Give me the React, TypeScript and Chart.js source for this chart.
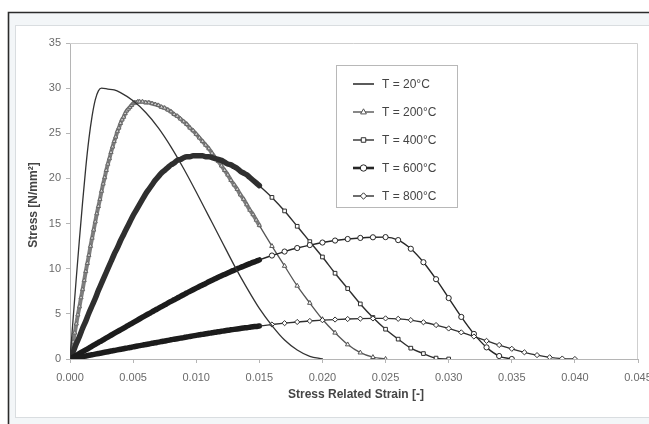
import React, { useEffect, useRef } from "react";
import { Chart, registerables } from "chart.js";

Chart.register(...registerables);

// ---- data (strain in [-], stress in N/mm²) ----
const SERIES_LABELS = ["T = 20°C", "T = 200°C", "T = 400°C", "T = 600°C", "T = 800°C"];

const STRAIN_DENSE = [
  0, 0.00025, 0.0005, 0.00075, 0.001, 0.00125, 0.0015, 0.00175, 0.002, 0.00225,
  0.0025, 0.00275, 0.003, 0.00325, 0.0035, 0.00375, 0.004, 0.00425, 0.0045, 0.00475,
  0.005, 0.00525, 0.0055, 0.00575, 0.006, 0.00625, 0.0065, 0.00675, 0.007, 0.00725,
  0.0075, 0.00775, 0.008, 0.00825, 0.0085, 0.00875, 0.009, 0.00925, 0.0095, 0.00975,
  0.01, 0.01025, 0.0105, 0.01075, 0.011, 0.01125, 0.0115, 0.01175, 0.012, 0.01225,
  0.0125, 0.01275, 0.013, 0.01325, 0.0135, 0.01375, 0.014, 0.01425, 0.0145, 0.01475,
  0.015,
];

const STRAIN_200_RISE = [
  0, 0.000125, 0.00025, 0.000375, 0.0005, 0.000625, 0.00075, 0.000875, 0.001, 0.001125,
  0.00125, 0.001375, 0.0015, 0.001625, 0.00175, 0.001875, 0.002, 0.002125, 0.00225, 0.002375,
  0.0025, 0.002625, 0.00275, 0.002875, 0.003, 0.003125, 0.00325, 0.003375, 0.0035, 0.003625,
  0.00375, 0.003875, 0.004, 0.004125, 0.00425, 0.004375, 0.0045, 0.004625, 0.00475, 0.004875,
  0.005, 0.005125, 0.00525, 0.005375, 0.0055,
];

const STRAIN_TAIL = [
  0.016, 0.017, 0.018, 0.019, 0.02, 0.021, 0.022, 0.023, 0.024, 0.025,
  0.026, 0.027, 0.028, 0.029, 0.03, 0.031, 0.032, 0.033, 0.034, 0.035,
  0.036, 0.037, 0.038, 0.039, 0.04,
];

const STRAIN_20 = [
  0, 0.00025, 0.0005, 0.00075, 0.001, 0.00125, 0.0015, 0.00175, 0.002, 0.00225,
  0.0025, 0.003, 0.0035, 0.004, 0.005, 0.006, 0.007, 0.008, 0.009, 0.01,
  0.011, 0.012, 0.013, 0.014, 0.015, 0.016, 0.017, 0.018, 0.019, 0.02,
];

const STRESS_20 = [
  0, 4.5, 9.0, 13.3, 17.4, 21.2, 24.4, 26.9, 28.7, 29.7,
  30.0, 29.9, 29.8, 29.5, 28.6, 27.3, 25.6, 23.5, 21.1, 18.5,
  15.8, 13.1, 10.4, 7.9, 5.6, 3.7, 2.1, 1.0, 0.3, 0,
];

const STRESS_200 = [
  // rising branch
  0, 1.0, 1.9, 2.9, 3.9, 4.9, 5.8, 6.8, 7.7, 8.7,
  9.7, 10.6, 11.5, 12.5, 13.4, 14.3, 15.2, 16.1, 16.9, 17.7,
  18.6, 19.4, 20.1, 20.9, 21.6, 22.2, 22.9, 23.5, 24.1, 24.6,
  25.2, 25.6, 26.1, 26.5, 26.8, 27.2, 27.5, 27.7, 27.9, 28.1,
  28.3, 28.4, 28.4, 28.5, 28.5,
  // falling branch (dense)
  28.5, 28.4, 28.4, 28.3, 28.2, 28.1, 27.9, 27.8, 27.6, 27.4,
  27.1, 26.9, 26.6, 26.3, 26.0, 25.6, 25.3, 24.9, 24.5, 24.1,
  23.7, 23.3, 22.8, 22.3, 21.9, 21.4, 20.9, 20.4, 19.8, 19.3,
  18.8, 18.2, 17.7, 17.1, 16.5, 16.0, 15.4, 14.8,
  // tail
  12.5, 10.3, 8.1, 6.2, 4.4, 2.9, 1.6, 0.7, 0.2, 0,
];

const STRESS_400 = [
  0, 0.8, 1.7, 2.5, 3.4, 4.2, 5.1, 5.9, 6.7, 7.6,
  8.4, 9.2, 10.0, 10.8, 11.6, 12.3, 13.1, 13.8, 14.5, 15.2,
  15.9, 16.5, 17.1, 17.7, 18.3, 18.8, 19.3, 19.8, 20.2, 20.6,
  20.9, 21.2, 21.5, 21.7, 22.0, 22.1, 22.3, 22.4, 22.4, 22.5,
  22.5, 22.5, 22.5, 22.4, 22.4, 22.3, 22.2, 22.1, 22.0, 21.8,
  21.6, 21.5, 21.3, 21.1, 20.8, 20.6, 20.4, 20.1, 19.8, 19.5,
  19.2,
  17.9, 16.4, 14.7, 13.0, 11.3, 9.5, 7.8, 6.1, 4.6, 3.3,
  2.2, 1.2, 0.6, 0.1, 0,
];

const STRESS_600 = [
  0, 0.2, 0.41, 0.61, 0.81, 1.01, 1.21, 1.42, 1.62, 1.82,
  2.02, 2.23, 2.43, 2.63, 2.83, 3.03, 3.23, 3.43, 3.63, 3.83,
  4.03, 4.23, 4.43, 4.63, 4.83, 5.02, 5.22, 5.41, 5.61, 5.8,
  5.99, 6.19, 6.38, 6.56, 6.75, 6.94, 7.12, 7.31, 7.49, 7.67,
  7.85, 8.03, 8.2, 8.37, 8.55, 8.72, 8.88, 9.05, 9.21, 9.37,
  9.53, 9.69, 9.84, 9.99, 10.14, 10.28, 10.42, 10.56, 10.7, 10.83,
  10.97,
  11.46, 11.9, 12.29, 12.62, 12.9, 13.12, 13.29, 13.41, 13.48, 13.5,
  13.17, 12.21, 10.72, 8.84, 6.75, 4.66, 2.78, 1.29, 0.33, 0,
];

const STRESS_800 = [
  0, 0.07, 0.14, 0.2, 0.27, 0.34, 0.41, 0.47, 0.54, 0.61,
  0.67, 0.74, 0.81, 0.88, 0.94, 1.01, 1.08, 1.14, 1.21, 1.28,
  1.34, 1.41, 1.48, 1.54, 1.61, 1.67, 1.74, 1.8, 1.87, 1.93,
  2.0, 2.06, 2.13, 2.19, 2.25, 2.31, 2.37, 2.44, 2.5, 2.56,
  2.62, 2.68, 2.73, 2.79, 2.85, 2.91, 2.96, 3.02, 3.07, 3.12,
  3.18, 3.23, 3.28, 3.33, 3.38, 3.43, 3.47, 3.52, 3.57, 3.61,
  3.66,
  3.82, 3.97, 4.1, 4.21, 4.3, 4.37, 4.43, 4.47, 4.49, 4.5,
  4.45, 4.31, 4.07, 3.76, 3.38, 2.95, 2.49, 2.01, 1.55, 1.13,
  0.74, 0.43, 0.19, 0.05, 0,
];

const X_MIN = 0;
const X_MAX = 0.045;
const X_STEP = 0.005;
const Y_MIN = 0;
const Y_MAX = 35;
const Y_STEP = 5;
const DENSE_LIMIT = 0.015;

const X_TITLE = "Stress Related Strain [-]";
const Y_TITLE = "Stress [N/mm²]";

// strain vectors per series built from the arrays above
const STRAIN_200 = [
  ...STRAIN_200_RISE,
  ...STRAIN_DENSE.filter((e) => e > 0.0055),
  ...STRAIN_TAIL.filter((e) => e <= 0.025),
];
const STRAIN_400 = [...STRAIN_DENSE, ...STRAIN_TAIL.filter((e) => e <= 0.03)];
const STRAIN_600 = [...STRAIN_DENSE, ...STRAIN_TAIL.filter((e) => e <= 0.035)];
const STRAIN_800 = [...STRAIN_DENSE, ...STRAIN_TAIL];

const pts = (xs: number[], ys: number[]) => xs.map((x, i) => ({ x, y: ys[i] }));

const FONT = "'Liberation Sans', Arial, Helvetica, sans-serif";

type Style = {
  color: string;
  width: number;
  marker: string | false;
  legendWidth: number;
  denseLine: string;
  denseWidth: number;
  denseFill: string;
  denseBorder: string;
  denseRadius: number;
};

const STYLES: Style[] = [
  { color: "#333333", width: 1.3, marker: false, legendWidth: 1.6, denseLine: "#333333", denseWidth: 1.3, denseFill: "#fff", denseBorder: "#333", denseRadius: 0 },
  { color: "#555555", width: 1.3, marker: "triangle", legendWidth: 1.4, denseLine: "#7e7e7e", denseWidth: 4, denseFill: "#d0d0d0", denseBorder: "#666666", denseRadius: 2.4 },
  { color: "#2e2e2e", width: 1.4, marker: "rect", legendWidth: 1.4, denseLine: "#2f2f2f", denseWidth: 5.5, denseFill: "#555", denseBorder: "#3a3a3a", denseRadius: 0 },
  { color: "#262626", width: 1.4, marker: "circle", legendWidth: 2.6, denseLine: "#1c1c1c", denseWidth: 5.5, denseFill: "#222", denseBorder: "#1a1a1a", denseRadius: 0 },
  { color: "#303030", width: 1.3, marker: "rectRot", legendWidth: 1.4, denseLine: "#1c1c1c", denseWidth: 5.5, denseFill: "#222", denseBorder: "#1a1a1a", denseRadius: 0 },
];

function drawMarker(ctx: CanvasRenderingContext2D, style: string, x: number, y: number, r: number) {
  ctx.beginPath();
  if (style === "circle") {
    ctx.arc(x, y, r, 0, Math.PI * 2);
  } else if (style === "rect") {
    const s = r * Math.SQRT1_2;
    ctx.rect(x - s, y - s, 2 * s, 2 * s);
  } else if (style === "rectRot") {
    ctx.moveTo(x, y - r);
    ctx.lineTo(x + r, y);
    ctx.lineTo(x, y + r);
    ctx.lineTo(x - r, y);
    ctx.closePath();
  } else if (style === "triangle") {
    ctx.moveTo(x, y - r);
    ctx.lineTo(x + r * 0.9, y + r * 0.6);
    ctx.lineTo(x - r * 0.9, y + r * 0.6);
    ctx.closePath();
  }
  ctx.fill();
  ctx.stroke();
}

const framePlugin = {
  id: "frame",
  beforeDraw(chart: any) {
    const ctx: CanvasRenderingContext2D = chart.ctx;
    const W = chart.width;
    const H = chart.height;
    ctx.save();
    ctx.fillStyle = "#ffffff";
    ctx.fillRect(0, 0, W, H);
    ctx.fillStyle = "#f3f6f8";
    ctx.fillRect(9, 13, W - 9, 12);
    ctx.fillRect(9, 13, 6, H - 13);
    ctx.fillRect(9, 418, W - 9, H - 418);
    ctx.strokeStyle = "#d9dde0";
    ctx.lineWidth = 1;
    ctx.strokeRect(15.5, 25.5, W - 10, 392);
    ctx.strokeStyle = "#2b2b2b";
    ctx.lineWidth = 1.6;
    ctx.beginPath();
    ctx.moveTo(8.5, H);
    ctx.lineTo(8.5, 12.5);
    ctx.lineTo(W, 12.5);
    ctx.stroke();
    ctx.restore();
  },
  beforeDatasetsDraw(chart: any) {
    const ctx: CanvasRenderingContext2D = chart.ctx;
    const a = chart.chartArea;
    ctx.save();
    ctx.strokeStyle = "#cfcfcf";
    ctx.lineWidth = 1;
    ctx.beginPath();
    ctx.moveTo(a.left, a.top + 0.5);
    ctx.lineTo(a.right - 0.5, a.top + 0.5);
    ctx.lineTo(a.right - 0.5, a.bottom);
    ctx.stroke();
    ctx.restore();
  },
  afterDraw(chart: any) {
    const ctx: CanvasRenderingContext2D = chart.ctx;
    const a = chart.chartArea;
    ctx.save();
    ctx.fillStyle = "#454545";
    ctx.font = `bold 12px ${FONT}`;
    ctx.textAlign = "center";
    ctx.textBaseline = "middle";
    ctx.fillText(X_TITLE, (a.left + a.right) / 2 + 2, 395);
    ctx.save();
    ctx.translate(34, 205);
    ctx.rotate(-Math.PI / 2);
    ctx.fillText(Y_TITLE, 0, 0);
    ctx.restore();

    const bx = 336.5;
    const by = 65.5;
    const bw = 121;
    const bh = 142;
    ctx.fillStyle = "#ffffff";
    ctx.fillRect(bx, by, bw, bh);
    ctx.strokeStyle = "#b8b8b8";
    ctx.lineWidth = 1;
    ctx.strokeRect(bx, by, bw, bh);
    ctx.font = `12px ${FONT}`;
    ctx.textAlign = "left";
    ctx.textBaseline = "middle";
    SERIES_LABELS.forEach((label, i) => {
      const st = STYLES[i];
      const cy = 84 + i * 28;
      ctx.strokeStyle = st.color;
      ctx.lineWidth = st.legendWidth;
      ctx.beginPath();
      ctx.moveTo(353, cy);
      ctx.lineTo(374, cy);
      ctx.stroke();
      if (st.marker) {
        ctx.fillStyle = "#ffffff";
        ctx.lineWidth = 1;
        drawMarker(ctx, st.marker as string, 363.5, cy, 3.2);
      }
      ctx.fillStyle = "#444444";
      ctx.fillText(label, 382, cy + 0.5);
    });
    ctx.restore();
  },
};

export default function App() {
  const ref = useRef<HTMLCanvasElement | null>(null);

  useEffect(() => {
    if (!ref.current) return;
    const series = [
      pts(STRAIN_20, STRESS_20),
      pts(STRAIN_200, STRESS_200),
      pts(STRAIN_400, STRESS_400),
      pts(STRAIN_600, STRESS_600),
      pts(STRAIN_800, STRESS_800),
    ];
    const datasets = series.map((data, i) => {
      const st = STYLES[i];
      const isDense = (c: any) => c.raw && c.raw.x <= DENSE_LIMIT;
      const segDense = (c: any) => c.p1 && c.p1.parsed.x <= DENSE_LIMIT + 1e-9;
      return {
        label: SERIES_LABELS[i],
        data,
        borderColor: st.color,
        borderWidth: st.width,
        backgroundColor: "#ffffff",
        pointStyle: st.marker ? (st.marker as any) : "circle",
        pointRadius: st.marker ? (c: any) => (isDense(c) ? st.denseRadius : 2.6) : 0,
        pointBorderWidth: 1,
        pointBorderColor: (c: any) => (isDense(c) ? st.denseBorder : st.color),
        pointBackgroundColor: (c: any) => (isDense(c) ? st.denseFill : "#ffffff"),
        segment: {
          borderWidth: (c: any) => (segDense(c) ? st.denseWidth : st.width),
          borderColor: (c: any) => (segDense(c) ? st.denseLine : st.color),
        },
        borderCapStyle: "round" as const,
        borderJoinStyle: "round" as const,
        cubicInterpolationMode: "monotone" as const,
        fill: false,
        order: i === 0 ? 0 : 5 - i,
      };
    });

    const chart = new Chart(ref.current, {
      type: "line",
      data: { datasets },
      options: {
        animation: false,
        responsive: false,
        maintainAspectRatio: false,
        events: [],
        layout: { padding: { left: 0, right: 11, top: 43, bottom: 0 } },
        plugins: {
          legend: { display: false },
          tooltip: { enabled: false },
          title: { display: false },
        },
        scales: {
          x: {
            type: "linear",
            min: X_MIN,
            max: X_MAX,
            ticks: {
              stepSize: X_STEP,
              autoSkip: false,
              maxRotation: 0,
              padding: 8,
              color: "#6a6a6a",
              font: { family: FONT, size: 11 },
              callback: (v: any) => Number(v).toFixed(3),
            },
            grid: { drawOnChartArea: false, drawTicks: true, tickLength: 4, color: "#b5b5b5" },
            border: { display: true, color: "#b5b5b5", width: 1 },
            afterFit: (s: any) => {
              s.height = 65;
              s.paddingLeft = 0;
              s.paddingRight = 0;
            },
          },
          y: {
            type: "linear",
            min: Y_MIN,
            max: Y_MAX,
            ticks: {
              stepSize: Y_STEP,
              padding: 5,
              color: "#6a6a6a",
              font: { family: FONT, size: 11 },
            },
            grid: { drawOnChartArea: false, drawTicks: true, tickLength: 4, color: "#b5b5b5" },
            border: { display: true, color: "#b5b5b5", width: 1 },
            afterFit: (s: any) => {
              s.width = 70;
              s.paddingTop = 0;
              s.paddingBottom = 0;
            },
          },
        },
      },
      plugins: [framePlugin],
    } as any);

    return () => chart.destroy();
  }, []);

  return (
    <div style={{ position: "absolute", left: 0, top: 0, width: 649, height: 424, background: "#fff" }}>
      <canvas ref={ref} width={649} height={424} style={{ display: "block", width: 649, height: 424 }} />
    </div>
  );
}
